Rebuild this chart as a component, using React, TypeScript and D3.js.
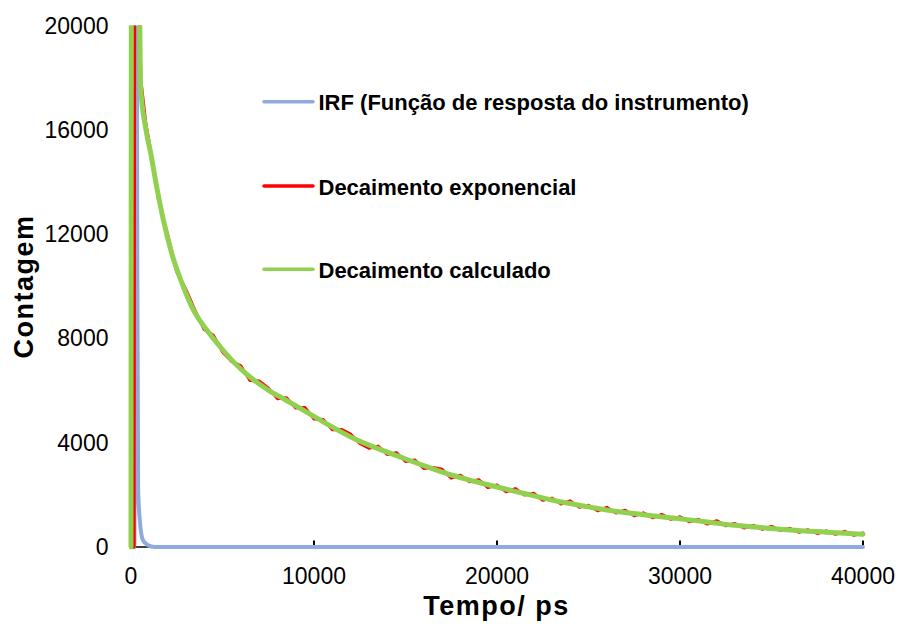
import React from "react";
import * as d3 from "d3";

// ---- data ----
const xTicks = [0, 10000, 20000, 30000, 40000];
const yTicks = [0, 4000, 8000, 12000, 16000, 20000];

const irfT = [0, 180, 290, 340, 390, 480, 640, 900, 1300, 40000];
const irfV = [0, 0, 28000, 12000, 2200, 1040, 280, 80, 0, 0];

const expT = [0, 170, 210, 480, 540, 820, 1000, 1500, 2000, 2500, 3000, 3500, 4000, 4500, 5000, 5500, 6000, 6500, 7000, 7500, 8000, 8500, 9000, 9500, 10000, 10500, 11000, 11500, 12000, 12500, 13000, 13500, 14000, 14500, 15000, 15500, 16000, 16500, 17000, 17500, 18000, 18500, 19000, 19500, 20000, 20500, 21000, 21500, 22000, 22500, 23000, 23500, 24000, 24500, 25000, 25500, 26000, 26500, 27000, 27500, 28000, 28500, 29000, 29500, 30000, 30500, 31000, 31500, 32000, 32500, 33000, 33500, 34000, 34500, 35000, 35500, 36000, 36500, 37000, 37500, 38000, 38500, 39000, 39500, 40000];
const expV = [0, 0, 27000, 20300, 17900, 16200, 15500, 13330, 11990, 10550, 9880, 9070, 8340, 8120, 7480, 7120, 6950, 6390, 6370, 6100, 5690, 5720, 5330, 5350, 4910, 4890, 4500, 4510, 4330, 3970, 3790, 3870, 3550, 3620, 3280, 3340, 3010, 3050, 2980, 2640, 2750, 2500, 2580, 2280, 2380, 2120, 2240, 1990, 2060, 1790, 1875, 1645, 1770, 1520, 1600, 1390, 1520, 1305, 1410, 1195, 1310, 1120, 1250, 1060, 1160, 970, 1060, 880, 1010, 815, 900, 730, 830, 680, 790, 630, 715, 565, 660, 520, 620, 490, 600, 450, 540];

const calcT = [0, 30, 470, 520, 820, 1075, 1400, 1765, 2220, 2855, 3400, 4130, 4860, 5600, 6500, 7500, 8500, 9200, 10500, 12000, 13500, 14700, 16000, 17400, 18700, 20000, 21500, 23000, 24500, 26000, 28000, 30000, 31500, 33000, 34500, 36000, 38000, 40000];
const calcV = [0, 26000, 20600, 17700, 16000, 15110, 13830, 12550, 11275, 9990, 9100, 8330, 7690, 7100, 6520, 6020, 5620, 5335, 4800, 4222, 3770, 3455, 3120, 2780, 2530, 2300, 2050, 1805, 1600, 1420, 1240, 1080, 960, 830, 740, 655, 570, 490];

const legendLabels = [
  "IRF (Função de resposta do instrumento)",
  "Decaimento exponencial",
  "Decaimento calculado",
];
const colors = ["#8FAADC", "#FF0000", "#92D050"];

const W = 899;
const H = 624;

export default function App() {
  const x = d3.scaleLinear().domain([0, 40000]).range([131, 863]);
  const y = d3.scaleLinear().domain([0, 20000]).range([547, 25.5]);

  const zip = (t: number[], v: number[]) => t.map((d, i) => [d, v[i]] as [number, number]);
  const lineLin = d3.line<[number, number]>().x((d) => x(d[0])).y((d) => y(d[1]));
  const lineMono = d3
    .line<[number, number]>()
    .x((d) => x(d[0]))
    .y((d) => y(d[1]))
    .curve(d3.curveMonotoneX);

  const font = "'Liberation Sans', Arial, sans-serif";
  const legendY = [101.7, 186, 269.3];

  return (
    <div style={{ position: "absolute", left: 0, top: 0 }}>
      <svg width={W} height={H} style={{ display: "block", background: "#fff" }}>
        <defs>
          <clipPath id="plotClip">
            <rect x={0} y={25.5} width={W} height={H} />
          </clipPath>
        </defs>
        {/* axes */}
        <line x1={x(0)} x2={x(0)} y1={y(0)} y2={y(20000)} stroke="#000" strokeWidth={1} />
        <line x1={x(0)} x2={x(40000)} y1={y(0)} y2={y(0)} stroke="#000" strokeWidth={1.5} />
        {xTicks.map((t) => (
          <line key={"xt" + t} x1={x(t)} x2={x(t)} y1={y(0)} y2={y(0) - 6.5} stroke="#000" strokeWidth={2} />
        ))}
        {/* series */}
        <g clipPath="url(#plotClip)" fill="none" strokeLinejoin="round" strokeLinecap="round">
          <path d={lineMono(zip(irfT, irfV)) || ""} stroke={colors[0]} strokeWidth={4} />
          <path d={lineLin(zip(expT, expV)) || ""} stroke={colors[1]} strokeWidth={3} />
          <path d={lineMono(zip(calcT, calcV)) || ""} stroke={colors[2]} strokeWidth={5} />
        </g>
        {/* tick labels */}
        {yTicks.map((t) => (
          <text key={"yl" + t} x={108.5} y={y(t) + 8} textAnchor="end" fontFamily={font} fontSize={23} fill="#000">
            {t}
          </text>
        ))}
        {xTicks.map((t) => (
          <text key={"xl" + t} x={x(t)} y={584} textAnchor="middle" fontFamily={font} fontSize={23} fill="#000">
            {t}
          </text>
        ))}
        {/* axis titles */}
        <text x={496.5} y={615} textAnchor="middle" fontFamily={font} fontSize={27} fontWeight="bold" letterSpacing={1.5} fill="#000">
          Tempo/ ps
        </text>
        <text
          transform={`translate(33,286.5) rotate(-90)`}
          textAnchor="middle"
          fontFamily={font}
          fontSize={27}
          fontWeight="bold"
          letterSpacing={1.5}
          fill="#000"
        >
          Contagem
        </text>
        {/* legend */}
        {legendLabels.map((lab, i) => (
          <g key={lab}>
            <line x1={264} x2={313} y1={legendY[i]} y2={legendY[i]} stroke={colors[i]} strokeWidth={3.5} strokeLinecap="round" />
            <text x={318.5} y={legendY[i] + 8.5} fontFamily={font} fontSize={22} fontWeight="bold" fill="#000">
              {lab}
            </text>
          </g>
        ))}
      </svg>
    </div>
  );
}
